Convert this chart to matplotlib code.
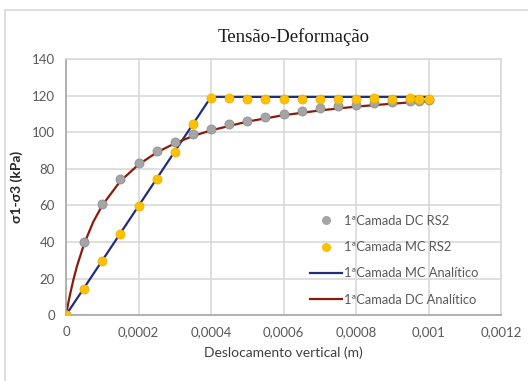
import matplotlib.pyplot as plt
from matplotlib.lines import Line2D

# 1a camada - pontos do RS2 (deslocamento em m, tensao desviadora em kPa)
x_dc_rs2 = [0, 0.00005, 0.0001, 0.00015, 0.0002, 0.00025, 0.0003, 0.00035, 0.0004,
            0.00045, 0.0005, 0.00055, 0.0006, 0.00065, 0.0007, 0.00075, 0.0008,
            0.00085, 0.0009, 0.00095, 0.000975, 0.001]
y_dc_rs2 = [0, 39.7, 60.7, 74.2, 83.0, 89.6, 94.8, 98.8, 101.8,
            104.4, 106.3, 108.3, 110.0, 111.4, 113.1, 114.2, 115.0,
            115.7, 116.5, 117.0, 117.2, 117.5]

x_mc_rs2 = [0, 0.00005, 0.0001, 0.00015, 0.0002, 0.00025, 0.0003, 0.00035, 0.0004,
            0.00045, 0.0005, 0.00055, 0.0006, 0.00065, 0.0007, 0.00075, 0.0008,
            0.00085, 0.0009, 0.00095, 0.000975, 0.001]
y_mc_rs2 = [0, 14.2, 29.5, 44.3, 59.6, 74.2, 89.0, 104.5, 118.8,
            118.6, 118.2, 118.2, 118.2, 118.2, 118.2, 117.9, 118.2,
            118.5, 118.2, 118.6, 118.3, 118.2]

# solucoes analiticas
x_mc_ana = [0, 0.0004, 0.001]
y_mc_ana = [0, 119.3, 119.3]

x_dc_ana = [0, 0.000005, 0.00001, 0.00002, 0.00003, 0.00005, 0.000075, 0.0001, 0.00015,
            0.0002, 0.00025, 0.0003, 0.00035, 0.0004, 0.0005, 0.0006, 0.0007,
            0.0008, 0.0009, 0.001]
y_dc_ana = [0, 5.3, 10.2, 19.0, 26.6, 39.0, 50.9, 60.0, 73.3,
            82.3, 88.9, 93.9, 97.9, 101.0, 105.8, 109.3, 111.9,
            114.0, 115.6, 117.0]

x_ticks = [0, 0.0002, 0.0004, 0.0006, 0.0008, 0.001, 0.0012]
x_tick_labels = ['0', '0,0002', '0,0004', '0,0006', '0,0008', '0,001', '0,0012']
y_ticks = [0, 20, 40, 60, 80, 100, 120, 140]

txt_color = '#595959'
grid_color = '#d9d9d9'

fig = plt.figure(figsize=(5.28, 3.81), dpi=100)
ax = fig.add_axes([0.125, 0.173, 0.824, 0.672])

# borda do grafico
fig.add_artist(Line2D([5 / 528, 1.0], [1 - 10 / 381, 1 - 10 / 381],
                      transform=fig.transFigure, color=grid_color, lw=1.2))
fig.add_artist(Line2D([5 / 528, 5 / 528], [0, 1 - 10 / 381],
                      transform=fig.transFigure, color=grid_color, lw=1.2))

ax.plot(x_mc_ana, y_mc_ana, color='#1f2f7a', lw=1.6, zorder=2)
ax.plot(x_dc_ana, y_dc_ana, color='#8b1a0a', lw=1.6, zorder=2)
ax.plot(x_dc_rs2, y_dc_rs2, 'o', color='#a5a5a5', mec='#8f8f8f', mew=0.6, ms=6.5, zorder=3)
ax.plot(x_mc_rs2, y_mc_rs2, 'o', color='#ffc000', mec='#f0b400', mew=0.6, ms=6.5, zorder=4)

ax.set_xlim(0, 0.0012)
ax.set_ylim(0, 140)
ax.set_xticks(x_ticks)
ax.set_xticklabels(x_tick_labels)
ax.set_yticks(y_ticks)
ax.tick_params(length=0, pad=8, labelsize=9.5, labelcolor=txt_color)
for lab in ax.get_xticklabels() + ax.get_yticklabels():
    lab.set_fontfamily('Lato')
ax.grid(True, color=grid_color, lw=1.2)
ax.set_axisbelow(True)
for side in ['top', 'right']:
    ax.spines[side].set_color(grid_color)
    ax.spines[side].set_linewidth(1.2)
ax.spines['left'].set_color('#a6a6a6')
ax.spines['bottom'].set_color('#a6a6a6')
ax.spines['left'].set_linewidth(1.2)
ax.spines['bottom'].set_linewidth(1.2)

ax.set_xlabel('Deslocamento vertical (m)', fontsize=10, color='#404040',
              family='Lato', labelpad=6)
ax.set_ylabel('σ1-σ3 (kPa)', fontsize=10, color='#262626',
              family='Lato', fontweight='bold', labelpad=6)

fig.text(294 / 528, 1 - 37 / 381, 'Tensão-Deformação', ha='center', va='center',
         fontsize=13.5, family='Liberation Serif', color='#1a1a1a')

handles = [
    Line2D([], [], ls='none', marker='o', color='#a5a5a5', ms=5.5),
    Line2D([], [], ls='none', marker='o', color='#ffc000', ms=5.5),
    Line2D([], [], color='#1f2f7a', lw=1.6),
    Line2D([], [], color='#8b1a0a', lw=1.6),
]
labels = ['1ªCamada DC RS2', '1ªCamada MC RS2',
          '1ªCamada MC Analítico', '1ªCamada DC Analítico']
leg = ax.legend(handles, labels, loc='upper left',
                bbox_to_anchor=(310 / 528, 1 - 215 / 381),
                bbox_transform=fig.transFigure, frameon=False,
                prop={'family': 'Lato', 'size': 9.3},
                handlelength=2.5, handletextpad=0.12, labelspacing=1.1,
                borderpad=0, borderaxespad=0)
for t in leg.get_texts():
    t.set_color(txt_color)

fig.savefig('out.png', dpi=100)
